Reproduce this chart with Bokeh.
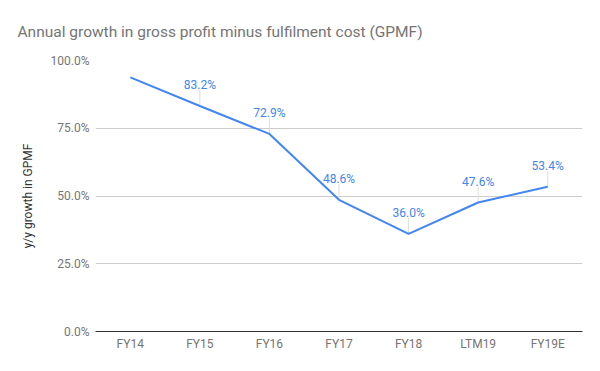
import math
from bokeh.plotting import figure
from bokeh.models import ColumnDataSource, Range1d, FixedTicker, CustomJSTickFormatter
from bokeh.embed import file_html
from bokeh.resources import INLINE

categories = ["FY14", "FY15", "FY16", "FY17", "FY18", "LTM19", "FY19E"]
growth = [93.8, 83.2, 72.9, 48.6, 36.0, 47.6, 53.4]
show_label = [False, True, True, True, True, True, True]
y_ticks = [0, 25, 50, 75, 100]

BLUE = "#4285F4"
GRAY = "#757575"
FONT = "Roboto"

src = ColumnDataSource(dict(x=categories, y=growth))
lab_src = ColumnDataSource(dict(
    x=[c for c, s in zip(categories, show_label) if s],
    y=[v for v, s in zip(growth, show_label) if s],
    lab=[f"{v:.1f}%" for v, s in zip(growth, show_label) if s]))

p = figure(x_range=categories, y_range=Range1d(0, 100),
           width=592, height=362, output_backend="svg", toolbar_location=None,
           min_border_left=95, min_border_right=10, min_border_top=59,
           min_border_bottom=31)
p.outline_line_color = None
p.background_fill_color = "white"
p.border_fill_color = "white"

p.title.text = "Annual growth in gross profit minus fulfilment cost (GPMF)"
p.title.text_font = FONT
p.title.text_font_size = "15.5px"
p.title.text_font_style = "normal"
p.title.text_color = GRAY
p.title.align = "left"
p.title.offset = -78
p.title.standoff = 40

# y axis
p.yaxis.ticker = FixedTicker(ticks=y_ticks)
p.yaxis.formatter = CustomJSTickFormatter(code="return tick.toFixed(1) + '%'")
p.yaxis.axis_line_color = None
p.yaxis.major_tick_line_color = None
p.yaxis.minor_tick_line_color = None
p.yaxis.major_tick_out = 0
p.yaxis.major_label_text_font = FONT
p.yaxis.major_label_text_font_size = "12px"
p.yaxis.major_label_text_color = GRAY
p.yaxis.major_label_standoff = 6
p.yaxis.axis_label = "y/y growth in GPMF"
p.yaxis.axis_label_text_font = FONT
p.yaxis.axis_label_text_font_size = "12px"
p.yaxis.axis_label_text_font_style = "normal"
p.yaxis.axis_label_text_color = "#333333"
p.yaxis.axis_label_standoff = 13

# x axis
p.xaxis.axis_line_color = "#333333"
p.xaxis.axis_line_width = 1
p.xaxis.major_tick_line_color = None
p.xaxis.minor_tick_line_color = None
p.xaxis.major_tick_out = 0
p.xaxis.major_label_text_font = FONT
p.xaxis.major_label_text_font_size = "12px"
p.xaxis.major_label_text_color = GRAY
p.xaxis.major_label_standoff = 5

p.xgrid.grid_line_color = None
p.ygrid.grid_line_color = "#cccccc"
p.ygrid.grid_line_width = 1

# leader lines
p.ray(x="x", y="y", source=lab_src, length=16, length_units="screen",
      angle=math.pi / 2, line_color="#dddddd", line_width=1)

p.line(x="x", y="y", source=src, line_color=BLUE, line_width=2)

p.text(x="x", y="y", text="lab", source=lab_src, text_align="center",
       text_baseline="middle", y_offset=-21, text_color=BLUE,
       text_font_size="12px", text_font={"value": FONT})

open("out.html", "w").write(file_html(p, INLINE))
